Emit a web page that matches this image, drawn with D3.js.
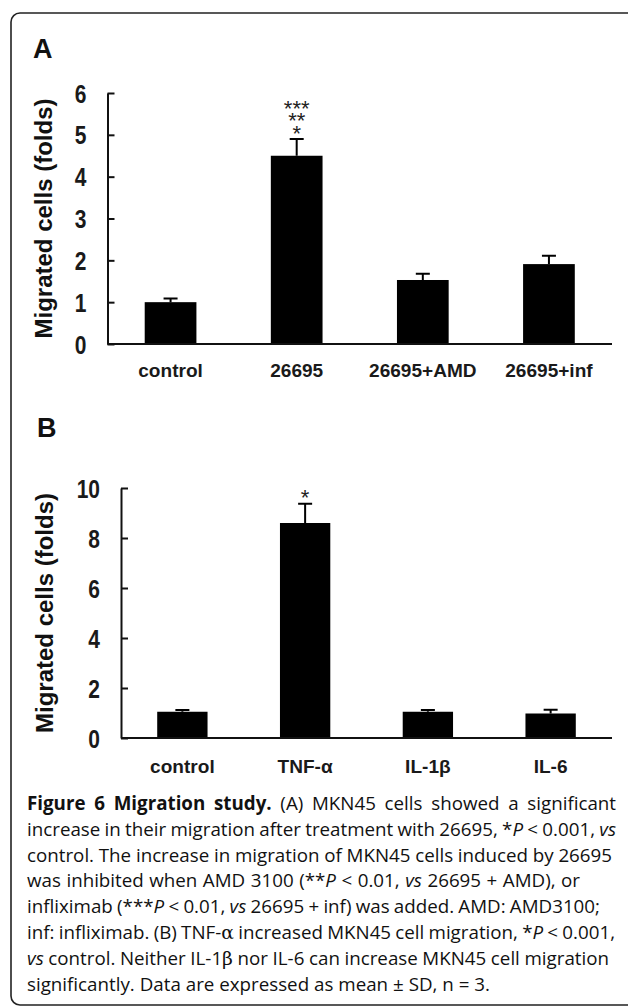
<!DOCTYPE html>
<html lang="en">
<head>
<meta charset="utf-8">
<title>Figure 6 Migration study</title>
<script src="https://cdn.jsdelivr.net/npm/d3@7"></script>
<style>
  body { margin: 0; background: #fff; }
  .bar { fill: #000; }
  .err { stroke: #000; stroke-width: 2; fill: none; }
  .axis path, .axis line { stroke: #111; stroke-width: 2; }
  .caption { font-family: "Open Sans", sans-serif; fill: #111; }
</style>
</head>
<body>
<script>
var w = 628, h = 1007;

// Panel A data
var catsA = ["control", "26695", "26695+AMD", "26695+inf"];
var meansA = [1.0, 4.5, 1.53, 1.91];
var sdA = [0.09, 0.4, 0.15, 0.2];
var marksA = [[], ["***", "**", "*"], [], []];
var ticksA = [0, 1, 2, 3, 4, 5, 6];

// Panel B data
var catsB = ["control", "TNF-\u03b1", "IL-1\u03b2", "IL-6"];
var meansB = [1.05, 8.6, 1.05, 0.98];
var sdB = [0.07, 0.77, 0.07, 0.15];
var marksB = [[], ["*"], [], []];
var ticksB = [0, 2, 4, 6, 8, 10];

var yTitle = "Migrated cells (folds)";

// caption lines: [text, style] pieces, and the width each line fills
var captionLines = [
  [["Figure 6 Migration study.", "b"], [" (A) MKN45 cells showed a significant", ""]],
  [["increase in their migration after treatment with 26695, *", ""], ["P", "i"], [" < 0.001, ", ""], ["vs", "i"]],
  [["control. The increase in migration of MKN45 cells induced by 26695", ""]],
  [["was inhibited when AMD 3100 (**", ""], ["P", "i"], [" < 0.01, ", ""], ["vs", "i"], [" 26695 + AMD), or", ""]],
  [["infliximab (***", ""], ["P", "i"], [" < 0.01, ", ""], ["vs", "i"], [" 26695 + inf) was added. AMD: AMD3100;", ""]],
  [["inf: infliximab. (B) TNF-", ""], ["\u03b1", "g"], [" increased MKN45 cell migration, *", ""], ["P", "i"], [" < 0.001,", ""]],
  [["vs", "i"], [" control. Neither IL-1", ""], ["\u03b2", "g"], [" nor IL-6 can increase MKN45 cell migration", ""]],
  [["significantly. Data are expressed as mean \u00b1 SD, n = 3.", ""]]
];
var captionWidths = [589, 589, 585, 553, 573, 588, 582, 463];

var svg = d3.select("body").append("svg")
  .attr("width", w)
  .attr("height", h);

// outer frame
svg.append("rect")
  .attr("x", 11).attr("y", 13)
  .attr("width", 640).attr("height", 992)
  .attr("rx", 9).attr("ry", 9)
  .attr("fill", "none")
  .attr("stroke", "#222")
  .attr("stroke-width", 1.6);

function drawPanel(p) {
  var g = svg.append("g");

  g.append("text")
    .attr("x", p.letterX).attr("y", p.letterY)
    .attr("font-family", "Liberation Sans, Arial, sans-serif")
    .attr("font-weight", "bold")
    .attr("font-size", 27)
    .attr("fill", "#111")
    .text(p.letter);

  var x = d3.scaleBand()
    .domain(p.cats)
    .range([p.x0, p.x1])
    .paddingInner(0.59)
    .paddingOuter(0.295);

  var y = d3.scaleLinear()
    .domain([0, d3.max(p.ticks)])
    .range([p.yBottom, p.yTop]);

  // bars
  g.selectAll(".bar")
    .data(p.means)
    .enter().append("rect")
    .attr("class", "bar")
    .attr("x", function(d, i) { return x(p.cats[i]); })
    .attr("y", function(d) { return y(d); })
    .attr("width", x.bandwidth())
    .attr("height", function(d) { return y(0) - y(d); });

  // error bars, upper half only
  var cap = 7;
  p.means.forEach(function(m, i) {
    var cx = x(p.cats[i]) + x.bandwidth() / 2;
    var top = y(m + p.sd[i]);
    g.append("path")
      .attr("class", "err")
      .attr("d", "M" + cx + "," + y(m) + "V" + top + "M" + (cx - cap) + "," + top + "H" + (cx + cap));

    if (p.marks[i].length) {
      var n = p.marks[i].length;
      var t = g.append("text")
        .attr("text-anchor", "middle")
        .attr("font-family", "Liberation Sans, Arial, sans-serif")
        .attr("font-size", 22)
        .attr("fill", "#222");
      p.marks[i].forEach(function(s, k) {
        t.append("tspan")
          .attr("x", cx)
          .attr("y", top + 1.5 - 12.5 * (n - 1 - k))
          .text(s);
      });
    }
  });

  // y axis, ticks pointing inward
  var yAxis = g.append("g")
    .attr("class", "axis")
    .attr("transform", "translate(" + p.x0 + ",0)")
    .call(d3.axisLeft(y).tickValues(p.ticks).tickFormat(d3.format("d"))
      .tickSize(-7).tickSizeOuter(0).tickPadding(21));
  yAxis.selectAll("text")
    .attr("x", 0)
    .attr("transform", "translate(-21,0) scale(0.84,1)")
    .attr("font-family", "Liberation Sans, Arial, sans-serif")
    .attr("font-weight", "bold")
    .attr("font-size", 25)
    .attr("dy", "0.36em")
    .attr("fill", "#1a1a1a");

  // x axis with category labels, slightly stretched like the original
  var xAxis = g.append("g")
    .attr("class", "axis")
    .attr("transform", "translate(0," + y(0) + ")")
    .call(d3.axisBottom(x).tickSize(0).tickSizeOuter(0).tickPadding(p.labelPad));
  xAxis.select(".domain").attr("d", "M" + p.x0 + ",0H" + p.x1);
  xAxis.selectAll(".tick text")
    .attr("font-family", "Liberation Sans, Arial, sans-serif")
    .attr("font-weight", "bold")
    .attr("font-size", 18)
    .attr("transform", "scale(1.06,1)")
    .attr("fill", "#1a1a1a");

  // y title
  g.append("text")
    .attr("transform", "translate(" + p.titleX + "," + (p.yTop + p.yBottom) / 2 + ") rotate(-90)")
    .attr("text-anchor", "middle")
    .attr("font-family", "Liberation Sans, Arial, sans-serif")
    .attr("font-weight", "bold")
    .attr("font-size", 24)
    .attr("fill", "#111")
    .text(yTitle);
}

drawPanel({
  letter: "A", letterX: 33, letterY: 58,
  cats: catsA, means: meansA, sd: sdA, marks: marksA, ticks: ticksA,
  x0: 107.5, x1: 612, yTop: 93, yBottom: 344, labelPad: 20, titleX: 52
});

drawPanel({
  letter: "B", letterX: 37, letterY: 437,
  cats: catsB, means: meansB, sd: sdB, marks: marksB, ticks: ticksB,
  x0: 121, x1: 612, yTop: 488, yBottom: 738, labelPad: 22, titleX: 53
});

// caption
var capText = svg.append("text").attr("class", "caption");
var baseSize = 18;
var lineEls = captionLines.map(function(line, li) {
  var t = capText.append("tspan")
    .attr("x", 27)
    .attr("y", 810 + li * 25.8);
  line.forEach(function(seg) {
    var s = t.append("tspan").text(seg[0]);
    if (seg[1] === "b") s.attr("font-weight", "bold");
    if (seg[1] === "i") s.attr("font-style", "italic");
    if (seg[1] === "g") s.attr("font-family", "DejaVu Serif, Liberation Serif, serif");
  });
  return t;
});
capText.attr("font-size", baseSize);
var lastW = lineEls[7].node().getComputedTextLength();
capText.attr("font-size", baseSize * captionWidths[7] / lastW);
// spread the words so each line reaches its width
lineEls.forEach(function(t, i) {
  var natural = t.node().getComputedTextLength();
  var spaces = captionLines[i].map(function(s) { return s[0]; }).join("").split(" ").length - 1;
  t.style("word-spacing", ((captionWidths[i] - natural) / spaces) + "px");
});
</script>
</body>
</html>
